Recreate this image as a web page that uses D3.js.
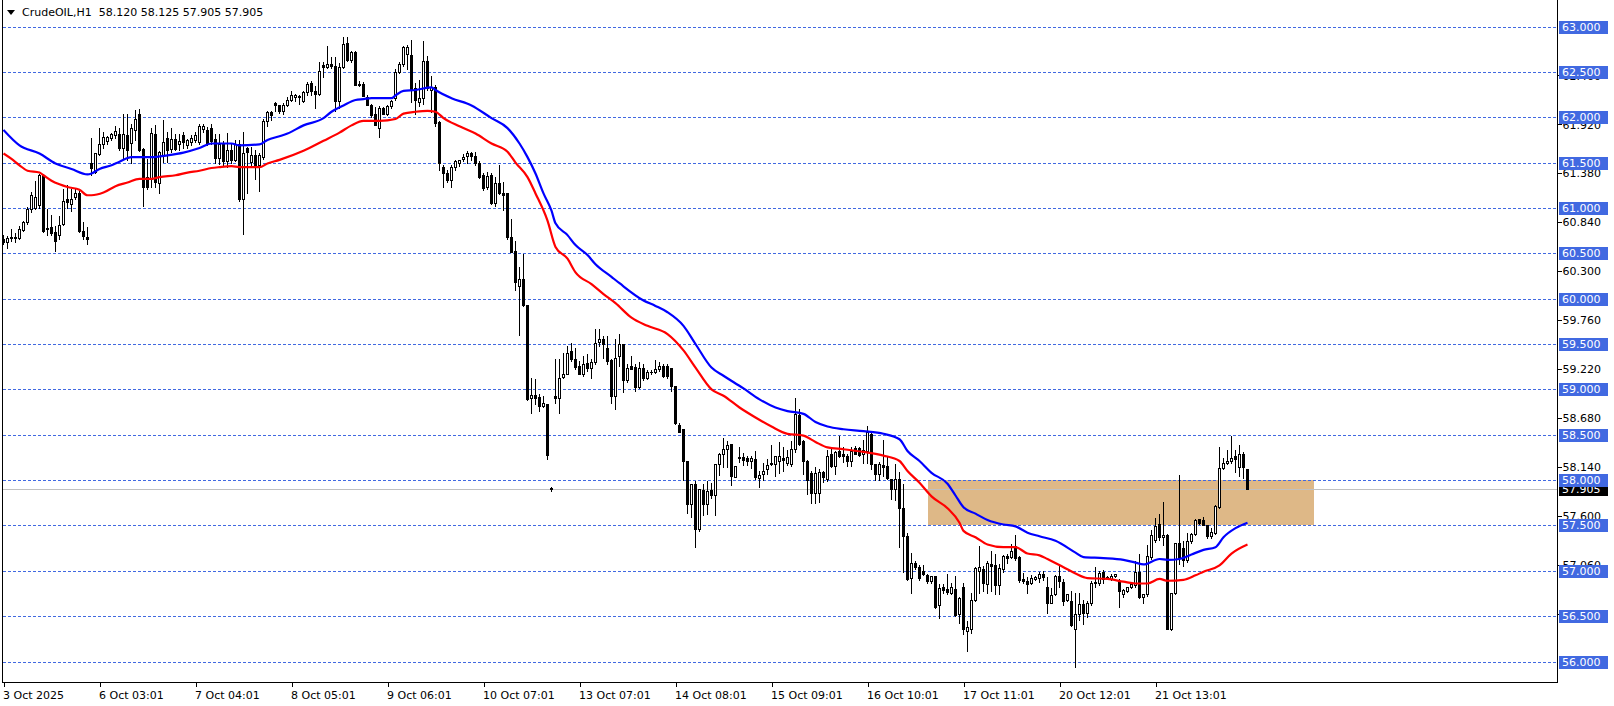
<!DOCTYPE html>
<html><head><meta charset="utf-8">
<script src="https://cdn.jsdelivr.net/npm/d3@7/dist/d3.min.js"></script>
<style>
html,body{margin:0;padding:0;background:#fff;}
svg{display:block;}
text{font-family:"DejaVu Sans",sans-serif;font-size:11px;}
</style></head><body>
<svg id="chart" width="1614" height="706"></svg>
<script>
// ---------------- DATA ----------------
const symbolTitle = "CrudeOIL,H1";
const lastQuote = ["58.120", "58.125", "57.905", "57.905"];
const currentPrice = 57.905;

const opens = [
60.66,60.62,60.67,60.67,60.67,60.76,60.84,60.99,61.00,61.03,
61.36,60.77,60.79,60.74,60.70,60.82,61.10,61.04,61.12,61.17,
60.75,60.68,61.49,61.40,61.59,61.70,61.74,61.77,61.80,61.81,
61.66,61.80,61.72,61.86,62.03,61.65,61.34,61.32,61.82,61.27,
61.58,61.77,61.65,61.76,61.71,61.80,61.69,61.73,61.75,61.73,
61.87,61.86,61.88,61.76,61.55,61.70,61.52,61.64,61.53,61.71,
61.10,61.66,61.51,61.58,61.47,61.56,61.96,62.06,62.16,62.13,
62.07,62.13,62.19,62.22,62.22,62.18,62.28,62.38,62.29,62.26,
62.58,62.55,62.59,62.56,62.18,62.55,62.82,62.63,62.72,62.37,
62.37,62.22,62.14,62.04,61.88,62.10,62.04,62.12,62.21,62.50,
62.59,62.70,62.69,62.32,62.17,62.21,62.62,62.30,62.33,61.95,
61.45,61.38,61.31,61.45,61.49,61.54,61.57,61.60,61.57,61.49,
61.36,61.23,61.36,61.05,61.28,61.16,61.16,60.68,60.53,60.14,
60.22,59.93,58.91,58.94,58.92,58.82,58.84,57.91,58.93,58.91,
59.14,59.17,59.42,59.33,59.26,59.17,59.29,59.24,59.30,59.52,
59.55,59.46,59.32,58.93,59.37,59.50,59.10,59.26,59.25,59.03,
59.24,59.13,59.19,59.19,59.22,59.26,59.26,59.24,59.04,58.61,
58.56,58.21,57.74,57.96,57.46,57.89,57.74,57.89,57.83,58.18,
58.29,58.34,58.40,58.03,58.25,58.25,58.24,58.21,58.23,58.02,
58.07,58.12,58.18,58.18,58.21,58.24,58.19,58.18,58.34,58.72,
58.43,58.21,58.08,57.86,57.86,58.09,58.01,58.29,58.15,58.32,
58.29,58.27,58.21,58.35,58.35,58.29,58.32,58.51,58.18,58.07,
58.17,58.15,58.01,57.90,58.01,57.69,57.38,56.92,57.09,57.04,
57.00,56.95,56.89,56.94,56.62,56.82,56.80,56.76,56.80,56.52,
56.82,56.34,56.36,56.68,57.00,57.02,56.85,57.08,57.06,56.84,
57.02,57.16,57.15,57.27,57.15,56.91,56.89,56.86,56.91,56.92,
56.97,56.82,56.65,56.74,56.94,56.88,56.68,56.67,56.36,56.52,
56.63,56.54,56.64,56.86,56.86,56.99,56.93,56.91,56.94,56.89,
56.74,56.78,56.82,56.84,56.99,56.71,56.74,57.15,57.34,57.52,
57.37,57.39,56.36,56.75,57.31,57.25,57.12,57.33,57.41,57.57,
57.56,57.50,57.38,57.42,57.70,58.13,58.19,58.21,58.26,58.14,
58.29,58.12];

const highs = [
60.70,60.69,60.77,60.72,60.80,60.86,61.01,61.18,61.30,61.37,
61.37,60.99,60.92,60.80,60.91,61.21,61.25,61.21,61.21,61.19,
60.84,60.79,61.77,61.60,61.88,61.84,61.79,61.83,61.90,61.88,
62.03,62.03,61.93,62.08,62.09,61.66,61.54,61.88,61.91,61.63,
61.97,61.84,61.88,61.82,61.81,61.84,61.76,61.80,61.84,61.93,
61.92,61.89,61.93,61.82,61.82,61.74,61.83,61.70,61.75,61.75,
61.84,61.67,61.67,61.64,61.60,61.98,62.07,62.07,62.17,62.14,
62.16,62.22,62.29,62.26,62.24,62.29,62.39,62.40,62.34,62.61,
62.61,62.78,62.66,62.66,62.60,62.88,62.88,62.73,62.73,62.40,
62.39,62.24,62.15,62.11,62.12,62.11,62.13,62.19,62.53,62.61,
62.79,62.80,62.85,62.38,62.41,62.84,62.68,62.45,62.36,61.96,
61.47,61.42,61.47,61.53,61.53,61.59,61.63,61.62,61.62,61.52,
61.38,61.40,61.38,61.34,61.47,61.29,61.16,60.88,60.64,60.35,
60.49,59.93,59.13,59.11,58.95,58.93,58.84,57.92,59.33,59.33,
59.40,59.48,59.51,59.46,59.31,59.37,59.39,59.33,59.66,59.66,
59.59,59.59,59.33,59.55,59.61,59.50,59.28,59.37,59.28,59.30,
59.28,59.21,59.21,59.32,59.30,59.28,59.28,59.24,59.04,58.63,
58.56,58.21,57.96,57.99,57.90,57.96,57.99,57.97,58.18,58.30,
58.46,58.43,58.40,58.16,58.37,58.30,58.26,58.26,58.32,58.10,
58.19,58.23,58.39,58.26,58.42,58.36,58.33,58.43,58.91,58.78,
58.44,58.22,58.10,58.14,58.12,58.10,58.33,58.34,58.32,58.49,
58.37,58.29,58.36,58.38,58.37,58.44,58.60,58.54,58.18,58.20,
58.44,58.27,58.01,58.18,58.09,57.96,57.42,57.20,57.11,57.06,
57.06,56.97,56.94,56.94,56.85,56.85,56.96,56.86,56.94,56.71,
56.87,56.45,56.75,57.04,57.27,57.05,57.11,57.22,57.19,57.08,
57.17,57.18,57.29,57.39,57.16,56.98,56.93,56.95,56.94,56.99,
57.00,56.93,56.81,56.95,57.06,56.91,56.74,56.78,56.75,56.75,
56.68,56.67,56.89,57.04,57.00,57.01,56.94,56.96,56.97,56.91,
56.80,56.82,56.87,57.11,57.18,56.74,57.28,57.45,57.58,57.63,
57.76,57.41,56.76,57.31,58.06,57.33,57.42,57.42,57.57,57.57,
57.59,57.51,57.47,57.73,58.37,58.24,58.33,58.49,58.33,58.39,
58.31,58.125];

const lows = [
60.60,60.56,60.64,60.62,60.66,60.75,60.82,60.95,60.99,61.00,
60.73,60.70,60.70,60.53,60.66,60.81,61.00,60.97,61.10,60.73,
60.66,60.60,61.36,61.38,61.58,61.66,61.70,61.75,61.77,61.64,
61.54,61.53,61.49,61.75,61.63,61.02,61.21,61.23,61.23,61.16,
61.51,61.51,61.62,61.64,61.64,61.66,61.66,61.69,61.73,61.71,
61.84,61.69,61.70,61.50,61.48,61.47,61.45,61.50,61.52,61.08,
60.71,61.17,61.47,61.32,61.19,61.54,61.90,61.97,62.07,62.05,
62.04,62.12,62.18,62.18,62.15,62.17,62.24,62.25,62.10,62.25,
62.44,62.54,62.54,62.07,62.10,62.54,62.62,62.61,62.35,62.34,
62.23,62.14,62.00,61.91,61.78,62.04,62.02,62.10,62.19,62.49,
62.57,62.53,62.17,62.03,62.12,62.15,62.30,62.06,61.90,61.42,
61.23,61.29,61.23,61.42,61.46,61.52,61.49,61.53,61.47,61.33,
61.20,61.21,61.04,61.02,61.15,60.98,60.66,60.51,60.09,59.60,
59.92,58.88,58.74,58.84,58.76,58.81,58.23,57.88,58.85,58.74,
59.12,59.17,59.31,59.22,59.17,59.15,59.20,59.13,59.28,59.48,
59.35,59.28,58.85,58.78,59.26,58.97,59.08,59.22,58.98,59.01,
59.10,59.11,59.17,59.18,59.20,59.14,59.13,58.98,58.62,58.53,
58.00,57.64,57.59,57.26,57.44,57.62,57.63,57.80,57.61,58.06,
58.14,58.14,57.95,58.03,58.20,58.17,58.17,58.13,58.01,57.92,
58.00,58.07,58.17,58.04,58.08,58.10,58.17,58.16,58.31,58.39,
58.07,57.85,57.75,57.75,57.76,57.98,57.99,58.14,58.07,58.25,
58.20,58.16,58.16,58.29,58.26,58.19,58.19,58.12,58.00,58.00,
58.04,58.01,57.79,57.78,57.26,56.99,56.90,56.76,57.02,56.90,
56.95,56.87,56.87,56.59,56.48,56.75,56.74,56.74,56.50,56.42,
56.30,56.12,56.31,56.67,56.76,56.78,56.76,56.78,56.74,56.74,
56.99,57.09,57.14,57.12,56.88,56.87,56.76,56.85,56.90,56.88,
56.90,56.54,56.64,56.73,56.82,56.62,56.67,56.39,55.94,56.46,
56.41,56.49,56.62,56.82,56.84,56.87,56.91,56.90,56.93,56.60,
56.71,56.77,56.81,56.82,56.70,56.65,56.72,57.13,57.32,57.34,
57.28,56.36,56.35,56.74,57.08,57.05,57.10,57.31,57.40,57.52,
57.50,57.36,57.36,57.41,57.69,58.12,58.18,58.19,58.09,58.04,
58.02,57.905];

const closes = [
60.62,60.67,60.68,60.68,60.77,60.84,60.99,61.14,61.12,61.36,
60.75,60.78,60.72,60.64,60.81,61.08,61.06,61.10,61.16,60.75,
60.69,60.66,61.44,61.60,61.71,61.78,61.78,61.81,61.85,61.66,
61.81,61.64,61.88,61.98,61.64,61.23,61.23,61.83,61.29,61.62,
61.73,61.64,61.76,61.65,61.74,61.73,61.75,61.77,61.80,61.90,
61.90,61.71,61.74,61.55,61.70,61.52,61.64,61.53,61.71,61.10,
61.60,61.62,61.58,61.47,61.58,61.96,62.06,62.02,62.13,62.07,
62.14,62.19,62.25,62.24,62.23,62.28,62.37,62.29,62.26,62.51,
62.55,62.59,62.56,62.18,62.55,62.81,62.63,62.72,62.36,62.36,
62.23,62.14,62.02,61.91,62.10,62.04,62.12,62.18,62.50,62.59,
62.77,62.77,62.31,62.19,62.21,62.62,62.32,62.33,61.94,61.49,
61.38,61.31,61.45,61.52,61.53,61.56,61.61,61.57,61.49,61.34,
61.22,61.35,61.05,61.28,61.16,61.14,60.68,60.51,60.18,60.22,
59.93,58.89,58.94,58.91,58.82,58.85,58.28,57.90,58.91,59.13,
59.17,59.40,59.33,59.25,59.17,59.28,59.24,59.30,59.51,59.55,
59.50,59.31,58.93,59.35,59.50,59.10,59.24,59.22,59.03,59.24,
59.13,59.19,59.19,59.22,59.26,59.15,59.15,59.04,58.63,58.53,
58.21,57.74,57.96,57.46,57.90,57.74,57.88,57.83,58.18,58.29,
58.34,58.39,58.04,58.16,58.24,58.22,58.21,58.24,58.03,58.06,
58.10,58.17,58.19,58.26,58.26,58.22,58.25,58.34,58.73,58.40,
58.21,58.00,57.86,58.08,58.09,58.03,58.27,58.15,58.31,58.27,
58.26,58.21,58.32,58.29,58.28,58.33,58.53,58.18,58.07,58.18,
58.14,58.02,57.90,58.01,57.69,57.38,56.91,57.09,57.04,56.92,
56.96,56.89,56.94,56.60,56.81,56.79,56.77,56.82,56.51,56.70,
56.36,56.38,56.68,57.03,57.04,56.86,57.09,57.05,56.84,57.03,
57.16,57.14,57.22,57.14,56.90,56.89,56.85,56.92,56.93,56.96,
56.93,56.64,56.73,56.94,56.89,56.67,56.74,56.40,56.52,56.63,
56.54,56.64,56.86,56.88,56.98,56.91,56.93,56.94,56.96,56.78,
56.79,56.82,56.85,56.99,56.71,56.74,57.16,57.39,57.49,57.37,
57.40,56.36,56.76,57.31,57.14,57.12,57.33,57.41,57.56,57.53,
57.51,57.38,57.43,57.71,58.13,58.19,58.21,58.24,58.23,58.29,
58.14,57.905];

// moving average of highs (blue) and lows (red): [bar, price]
const maHighLine = [[0,61.86],[4,61.69],[9,61.60],[13,61.49],[17,61.43],[21,61.37],[22,61.38],[24,61.43],[27,61.47],[29,61.51],[32,61.56],[37,61.56],[41,61.58],[45,61.61],[49,61.66],[52,61.71],[57,61.71],[59,61.69],[64,61.70],[66,61.75],[69,61.79],[71,61.82],[75,61.91],[80,61.99],[82,62.06],[85,62.13],[88,62.19],[90,62.20],[92,62.21],[97,62.21],[98,62.24],[100,62.29],[103,62.30],[107,62.33],[108,62.30],[112,62.21],[117,62.13],[122,61.99],[126,61.88],[129,61.71],[131,61.56],[133,61.38],[135,61.16],[137,60.97],[138,60.83],[141,60.70],[143,60.59],[146,60.48],[148,60.38],[152,60.24],[154,60.17],[160,59.98],[163,59.92],[166,59.85],[170,59.70],[173,59.50],[177,59.24],[180,59.15],[185,59.01],[189,58.89],[193,58.80],[196,58.76],[200,58.73],[203,58.64],[206,58.59],[210,58.56],[215,58.54],[220,58.51],[224,58.45],[226,58.32],[229,58.21],[232,58.08],[236,57.96],[238,57.83],[240,57.70],[243,57.63],[246,57.56],[250,57.51],[253,57.49],[256,57.42],[259,57.38],[263,57.33],[268,57.20],[270,57.15],[275,57.14],[280,57.12],[283,57.09],[285,57.07],[289,57.13],[291,57.12],[294,57.13],[297,57.18],[300,57.23],[303,57.26],[305,57.37],[308,57.47],[311,57.53]];
const maLowLine = [[0,61.60],[2,61.54],[4,61.47],[6,61.41],[9,61.39],[10,61.36],[12,61.30],[14,61.26],[16,61.23],[19,61.20],[21,61.14],[22,61.14],[25,61.17],[28,61.24],[31,61.28],[34,61.32],[37,61.32],[39,61.34],[43,61.36],[46,61.39],[49,61.41],[52,61.44],[54,61.45],[57,61.46],[59,61.45],[64,61.45],[66,61.49],[69,61.53],[75,61.63],[80,61.74],[84,61.83],[87,61.91],[90,61.96],[94,61.96],[98,61.98],[100,62.04],[103,62.06],[106,62.07],[108,62.06],[110,61.99],[114,61.90],[118,61.82],[122,61.71],[126,61.62],[128,61.50],[131,61.34],[133,61.16],[136,60.86],[138,60.57],[141,60.44],[143,60.29],[147,60.16],[150,60.05],[153,59.95],[157,59.79],[161,59.70],[166,59.61],[170,59.43],[173,59.24],[177,59.00],[180,58.93],[184,58.80],[188,58.69],[192,58.59],[196,58.51],[200,58.49],[203,58.42],[206,58.36],[210,58.34],[215,58.31],[220,58.27],[224,58.21],[226,58.10],[229,57.97],[232,57.82],[236,57.69],[239,57.53],[240,57.44],[243,57.37],[246,57.29],[250,57.26],[253,57.26],[256,57.19],[259,57.17],[261,57.13],[265,57.04],[268,56.97],[271,56.92],[276,56.91],[280,56.88],[283,56.86],[286,56.86],[289,56.91],[291,56.89],[295,56.90],[298,56.95],[300,56.99],[304,57.06],[307,57.19],[311,57.29]];

const levelLines = [56.0,56.5,57.0,57.5,58.0,58.5,59.0,59.5,60.0,60.5,61.0,61.5,62.0,62.5,63.0];
const priceTicks = [62.46,61.92,61.38,60.84,60.30,59.76,59.22,58.68,58.14,57.60,57.06,56.52];
const timeLabelBars = [0,24,48,72,96,120,144,168,192,216,240,264,288];
const timeLabels = ["3 Oct 2025","6 Oct 03:01","7 Oct 04:01","8 Oct 05:01","9 Oct 06:01","10 Oct 07:01","13 Oct 07:01","14 Oct 08:01","15 Oct 09:01","16 Oct 10:01","17 Oct 11:01","20 Oct 12:01","21 Oct 13:01"];
const zoneBars = [231, 327.6];
const zonePrices = [58.0, 57.5];

// ---------------- DRAW ----------------
const svg = d3.select('#chart');
const plotL = 2.5, plotR = 1557.5, plotB = 682.5;
const x = d3.scaleLinear().domain([0, 311]).range([3.5, 1247.5]);
const y = d3.scaleLinear().domain([56, 63]).range([661.5, 26.5]);
const Y = p => Math.round(y(p));
const lineBlue = '#4169E1';

svg.append('rect').attr('width',1614).attr('height',706).attr('fill','#fff');
svg.append('clipPath').attr('id','plotclip').append('rect')
  .attr('x',3).attr('y',0).attr('width',1554).attr('height',682);

const plot = svg.append('g').attr('clip-path','url(#plotclip)');

// zone rectangle
plot.append('rect')
  .attr('x', Math.round(x(zoneBars[0])))
  .attr('y', Y(zonePrices[0]))
  .attr('width', Math.round(x(zoneBars[1])) - Math.round(x(zoneBars[0])))
  .attr('height', Y(zonePrices[1]) - Y(zonePrices[0]))
  .attr('fill', '#DEB887');

// horizontal dashed level lines
plot.selectAll('line.lvl').data(levelLines).join('line')
  .attr('x1', plotL).attr('x2', plotR)
  .attr('y1', d => Y(d) + 0.5).attr('y2', d => Y(d) + 0.5)
  .attr('stroke', lineBlue).attr('stroke-width', 1)
  .attr('stroke-dasharray', '3,2').attr('shape-rendering','crispEdges');

// current price line
plot.append('line')
  .attr('x1', plotL).attr('x2', plotR)
  .attr('y1', Y(currentPrice) + 0.5).attr('y2', Y(currentPrice) + 0.5)
  .attr('stroke', '#C0C0C0').attr('shape-rendering','crispEdges');

const idx = d3.range(opens.length);

// wicks
plot.selectAll('line.wick').data(idx).join('line')
  .attr('x1', i => x(i)).attr('x2', i => x(i))
  .attr('y1', i => Y(highs[i])).attr('y2', i => Y(lows[i]) + 1)
  .attr('stroke', '#000').attr('stroke-width', 1)
  .attr('shape-rendering','crispEdges');

// bodies
const bull = idx.filter(i => closes[i] > opens[i] && Y(opens[i]) - Y(closes[i]) >= 1);
const bear = idx.filter(i => !bull.includes(i));

plot.selectAll('rect.bull').data(bull).join('rect')
  .attr('x', i => x(i) - 1)
  .attr('y', i => Y(closes[i]) + 0.5)
  .attr('width', 2)
  .attr('height', i => Math.max(Y(opens[i]) - Y(closes[i]), 1))
  .attr('fill', '#fff').attr('stroke', '#000').attr('stroke-width', 1)
  .attr('shape-rendering','crispEdges');

plot.selectAll('rect.bear').data(bear).join('rect')
  .attr('x', i => x(i) - 1.5)
  .attr('y', i => Math.min(Y(opens[i]), Y(closes[i])))
  .attr('width', 3)
  .attr('height', i => Math.abs(Y(closes[i]) - Y(opens[i])) + 1)
  .attr('fill', '#000')
  .attr('shape-rendering','crispEdges');

// moving average lines
const maLine = d3.line().x(d => x(d[0])).y(d => y(d[1])).curve(d3.curveMonotoneX);
plot.append('path').datum(maHighLine).attr('d', maLine)
  .attr('fill','none').attr('stroke','#0000FF').attr('stroke-width',2.2);
plot.append('path').datum(maLowLine).attr('d', maLine)
  .attr('fill','none').attr('stroke','#FF0000').attr('stroke-width',2.2);

// frame
svg.append('path')
  .attr('d', `M${plotL},0V${plotB}H${plotR}V0`)
  .attr('fill','none').attr('stroke','#000').attr('stroke-width',1)
  .attr('shape-rendering','crispEdges');

// bottom time axis
const xAxis = d3.axisBottom(x).tickValues(timeLabelBars).tickSize(4)
  .tickFormat((d, i) => timeLabels[i]);
const gx = svg.append('g').attr('transform', `translate(0,${plotB})`).call(xAxis);
gx.select('.domain').remove();
gx.selectAll('line').attr('stroke','#000').attr('shape-rendering','crispEdges');
gx.selectAll('text').attr('text-anchor','start').attr('x', -1).attr('y', 8.5)
  .attr('fill','#000').style('font-family','"DejaVu Sans",sans-serif').style('font-size','11px');

// right price axis (native ticks)
const yAxis = d3.axisRight(y).tickValues(priceTicks).tickSize(4).tickPadding(1)
  .tickFormat(d3.format('.3f'));
const gy = svg.append('g').attr('transform', `translate(${plotR},0)`).call(yAxis);
gy.select('.domain').remove();
gy.selectAll('line').attr('stroke','#000').attr('shape-rendering','crispEdges');
gy.selectAll('text').attr('fill','#000')
  .style('font-family','"DejaVu Sans",sans-serif').style('font-size','11px');

// current price box
const cp = svg.append('g');
cp.append('rect').attr('x', 1559).attr('y', Y(currentPrice) - 6).attr('width', 49).attr('height', 13)
  .attr('fill', '#000');
cp.append('text').attr('x', 1562).attr('y', Y(currentPrice) + 0.5).attr('dy','0.36em')
  .attr('fill','#fff').text(d3.format('.3f')(currentPrice));

// level line labels
const lbl = svg.selectAll('g.lvlLabel').data(levelLines).join('g').attr('class','lvlLabel');
lbl.append('rect').attr('x', 1559).attr('y', d => Y(d) - 6).attr('width', 49).attr('height', 13)
  .attr('fill', lineBlue);
lbl.append('text').attr('x', 1562).attr('y', d => Y(d) + 0.5).attr('dy','0.36em')
  .attr('fill','#fff').text(d => d3.format('.3f')(d));

// title
svg.append('path').attr('d','M7,10H15L11,15Z').attr('fill','#000');
svg.append('text').attr('x', 22).attr('y', 12.5).attr('dy','0.36em')
  .style('white-space','pre').attr('fill','#000')
  .text(symbolTitle + '  ' + lastQuote.join(' '));
</script>
</body></html>
